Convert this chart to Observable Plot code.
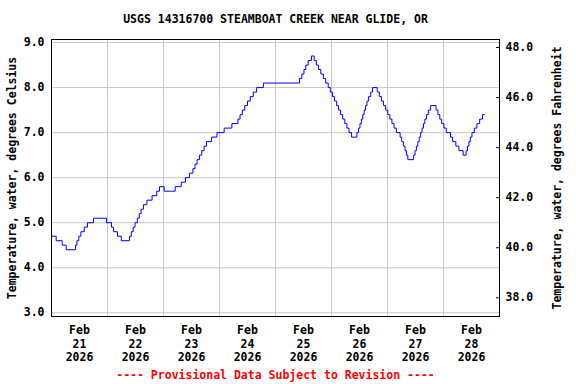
<!DOCTYPE html>
<html><head><meta charset="utf-8">
<script src="https://cdn.jsdelivr.net/npm/d3@7"></script>
<script src="https://cdn.jsdelivr.net/npm/@observablehq/plot@0.6"></script>
<style>body{margin:0;background:#fff} svg{display:block}</style>
</head><body><div id="chart"></div>
<script>
const siteTitle = "USGS 14316700 STEAMBOAT CREEK NEAR GLIDE, OR";
const caption = "---- Provisional Data Subject to Revision ----";
const yLabelLeft = "Temperature, water, degrees Celsius";
const yLabelRight = "Temperature, water, degrees Fahrenheit";
const startISO = "2026-02-21T00:00:00Z";
const endISO = "2026-03-01T00:00:00Z";
// hours since start at which the reading changes, and the reading (deg C) from then on
const hoursSinceStart = [0,2.0,4.6,6.3,10.3,10.9,11.7,12.6,14.0,15.4,18.0,23.6,25.7,26.6,28.3,29.9,33.4,34.2,35.0,35.8,36.8,37.6,38.4,39.4,40.9,43.1,45.1,46.3,48.3,53.0,55.6,57.4,59.1,60.6,61.5,62.4,63.4,64.4,65.4,66.4,68.6,70.9,74.0,77.3,79.9,80.8,81.8,82.8,84.0,85.2,86.5,87.9,90.8,106.3,107.3,108.2,109.0,110.0,111.4,112.6,113.5,114.4,115.4,116.5,117.5,118.6,119.5,120.4,121.3,122.2,123.0,123.9,124.8,125.7,126.6,127.5,128.6,130.9,131.6,132.2,132.8,133.4,134.0,134.6,135.2,135.9,136.8,137.6,139.6,140.5,141.4,142.3,143.2,144.1,145.0,145.9,146.8,147.8,149.4,150.1,150.8,151.5,152.1,152.7,155.2,155.8,156.4,157.0,157.6,158.2,158.8,159.4,160.0,160.7,161.5,162.5,164.8,165.6,166.4,167.2,168.2,169.2,171.0,171.9,173.3,174.6,176.4,177.7,178.3,178.9,179.5,180.2,181.2,182.3,183.5,184.7,185.5];
const tempC = [4.7,4.6,4.5,4.4,4.5,4.6,4.7,4.8,4.9,5.0,5.1,5.0,4.9,4.8,4.7,4.6,4.7,4.8,4.9,5.0,5.1,5.2,5.3,5.4,5.5,5.6,5.7,5.8,5.7,5.8,5.9,6.0,6.1,6.2,6.3,6.4,6.5,6.6,6.7,6.8,6.9,7.0,7.1,7.2,7.3,7.4,7.5,7.6,7.7,7.8,7.9,8.0,8.1,8.2,8.3,8.4,8.5,8.6,8.7,8.6,8.5,8.4,8.3,8.2,8.1,8.0,7.9,7.8,7.7,7.6,7.5,7.4,7.3,7.2,7.1,7.0,6.9,7.0,7.1,7.2,7.3,7.4,7.5,7.6,7.7,7.8,7.9,8.0,7.9,7.8,7.7,7.6,7.5,7.4,7.3,7.2,7.1,7.0,6.9,6.8,6.7,6.6,6.5,6.4,6.5,6.6,6.7,6.8,6.9,7.0,7.1,7.2,7.3,7.4,7.5,7.6,7.5,7.4,7.3,7.2,7.1,7.0,6.9,6.8,6.7,6.6,6.5,6.6,6.7,6.8,6.9,7.0,7.1,7.2,7.3,7.4,7.4];
const celsiusTicks = [3,4,5,6,7,8,9];
const fahrenheitTicks = [38,40,42,44,46,48];
const dayLabels = ["2026-02-21","2026-02-22","2026-02-23","2026-02-24","2026-02-25","2026-02-26","2026-02-27","2026-02-28"];

const t0 = new Date(startISO);
const t1 = new Date(endISO);
const data = hoursSinceStart.map((h, i) => ({t: new Date(+t0 + h * 3600e3), c: tempC[i]}));
const midnights = d3.utcDay.range(t0, d3.utcDay.offset(t1, 1));
const noons = dayLabels.map(d => new Date(d + "T12:00:00Z"));
const fTicksInC = fahrenheitTicks.map(f => (f - 32) / 1.8);

const chart = Plot.plot({
  width: 576, height: 384,
  marginTop: 39, marginBottom: 68, marginLeft: 51, marginRight: 77,
  style: {fontFamily: "'DejaVu Sans Mono', monospace", fontSize: "11.5px", fontWeight: "bold", background: "#fff", color: "#000"},
  x: {type: "utc", domain: [t0, t1]},
  y: {domain: [2.918, 9.067]},
  marks: [
    Plot.gridY(celsiusTicks, {stroke: "#c8c8c8", strokeOpacity: 1}),
    Plot.gridX(midnights, {stroke: "#c8c8c8", strokeOpacity: 1}),
    Plot.line(data, {x: "t", y: "c", curve: "step-after", stroke: "#0000ff", strokeWidth: 1}),
    Plot.frame({stroke: "#000"}),
    Plot.axisY(celsiusTicks, {anchor: "left", tickSize: 0, tickPadding: 7, tickFormat: d => d.toFixed(1), label: null}),
    Plot.axisY(fTicksInC, {anchor: "right", tickSize: -4, tickPadding: 10, tickFormat: c => (c * 1.8 + 32).toFixed(1), label: null}),
    Plot.axisX(noons, {anchor: "bottom", tickSize: 0, tickPadding: 8, lineHeight: 1.17, tickFormat: d3.utcFormat("%b\n%d\n%Y"), label: null}),
    Plot.text([yLabelLeft], {text: d => d, frameAnchor: "left", dx: -39, rotate: -90, textAnchor: "middle", lineAnchor: "middle"}),
    Plot.text([yLabelRight], {text: d => d, frameAnchor: "right", dx: 58, rotate: -90, textAnchor: "middle", lineAnchor: "middle"}),
    Plot.text([siteTitle], {text: d => d, frameAnchor: "top", dy: -20, textAnchor: "middle", lineAnchor: "middle"}),
    Plot.text([caption], {text: d => d, frameAnchor: "bottom", dy: 59, textAnchor: "middle", lineAnchor: "middle", fill: "#ff0000"})
  ]
});
document.getElementById("chart").appendChild(chart);
</script>
</body></html>
